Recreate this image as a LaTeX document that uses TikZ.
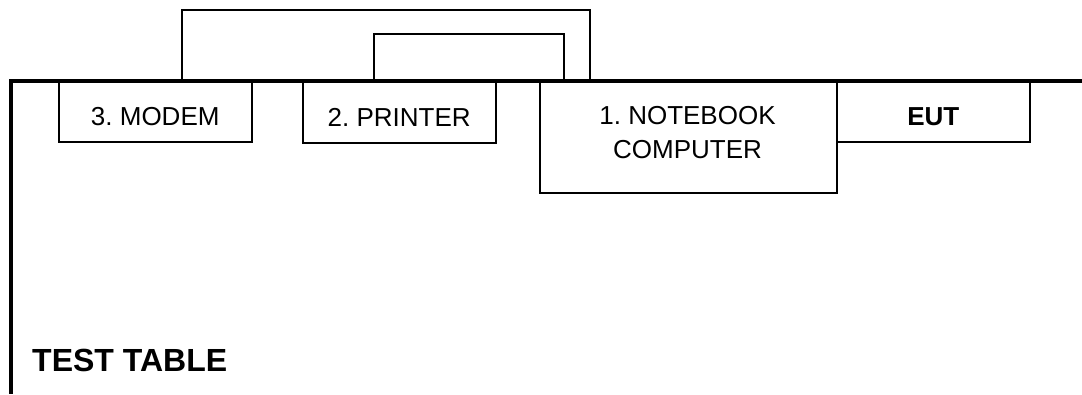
\documentclass[tikz,border=0pt]{standalone}
\usepackage{fontspec}
\setmainfont{Liberation Sans}
\frenchspacing
\usetikzlibrary{positioning}

\begin{document}
\begin{tikzpicture}[x=1pt, y=-1pt, font=\fontsize{26}{34}\selectfont,
  box/.style={draw, line width=1.5pt, anchor=north west, inner sep=0pt, text height=28pt, text depth=0pt},
  cable/.style={line width=1.5pt},
  table/.style={line width=4pt}]
\useasboundingbox (0,0) rectangle (1082,394);
\node[box, minimum width=193pt, minimum height=60pt] (modem) at (58,81) {3. MODEM};
\node[box, minimum width=193pt, minimum height=61pt] (printer) at (302,81) {2. PRINTER};
\node[box, minimum width=297pt, minimum height=111pt] (nb) at (539,81) {};
\node[align=center, inner sep=0pt] (nbtext) at (687.5,132.3) {1. NOTEBOOK\\COMPUTER};
\node[box, minimum width=193pt, minimum height=60pt, font=\fontsize{26}{34}\selectfont\bfseries] (eut) at (836,81) {EUT};
\node[anchor=base west, inner sep=0pt, font=\fontsize{32}{38}\selectfont\bfseries] (tt) at (32,371) {TEST TABLE};
% table edge
\draw[table] (1082,81) -- (10.5,81) -- (10.5,394);
% cables
\coordinate (mout) at (182,80);
\coordinate (pout) at (374,80);
\coordinate (nin1) at (590,80);
\coordinate (nin2) at (564,80);
\draw[cable] (mout) -- ++(0,-70) -| (nin1);
\draw[cable] (pout) -- ++(0,-46) -| (nin2);
\end{tikzpicture}
\end{document}
